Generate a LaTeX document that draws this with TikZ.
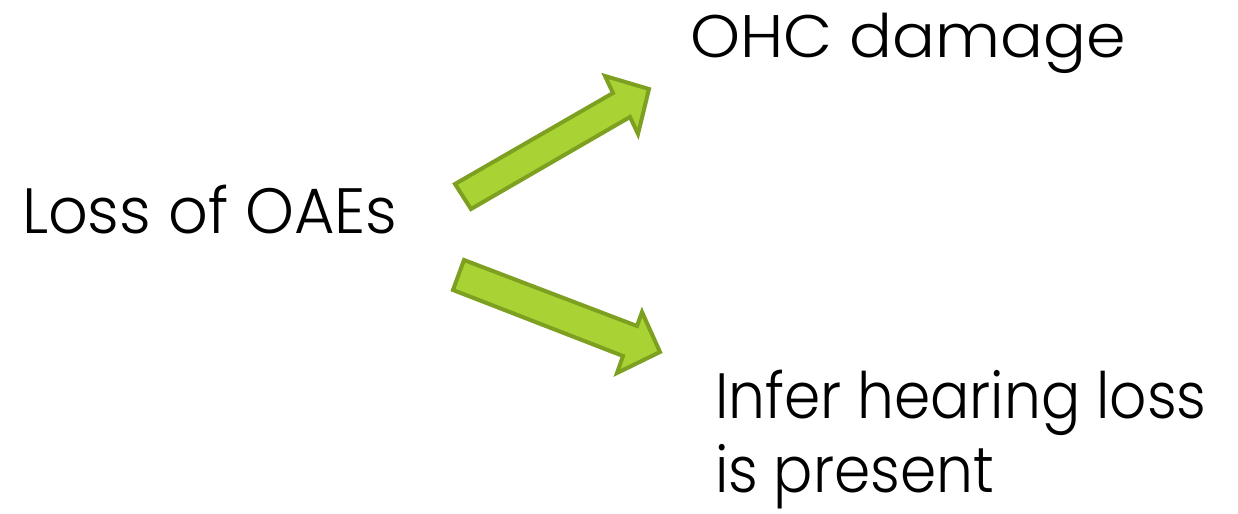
\documentclass[tikz,border=0pt]{standalone}
\usepackage{fontspec}
\setmainfont{Poppins Light}
\newfontfamily\lossfont{Poppins Light}[FakeStretch=0.97]
\newfontfamily\ohcfont{Poppins Light}[FakeStretch=1.06]
\newfontfamily\inferfont{Poppins Light}[FakeStretch=0.91]
\definecolor{arrowfill}{HTML}{A9D334}
\definecolor{arrowline}{HTML}{7EA021}
\begin{document}
\begin{tikzpicture}[x=0.5pt,y=-0.5pt,
  label/.style={inner sep=0pt, outer sep=0pt, anchor=base west, text=black},
  blockarrow/.style={fill=arrowfill, draw=arrowline, line width=2pt, line join=miter}]
\useasboundingbox (0,0) rectangle (1238,514);

% text
\node[label,font=\lossfont\fontsize{32}{37}\selectfont] (loss) at (22,233) {Loss of OAEs};
\node[label,font=\ohcfont\fontsize{30}{35}\selectfont] (ohc) at (690,57) {OHC damage};
\node[label,font=\inferfont\fontsize{32}{37}\selectfont,align=left] (infer) at (715,492) {Infer hearing loss\\is present};

% upper block arrow
\draw[blockarrow] (471,209) -- (630,117) -- (638,134) -- (649,89) -- (605,76) -- (613,93) -- (455,184) -- cycle;
% lower block arrow
\draw[blockarrow] (464,260) -- (637,326) -- (642,312) -- (660,352) -- (617,373) -- (623,356) -- (453,290) -- cycle;
\end{tikzpicture}
\end{document}
